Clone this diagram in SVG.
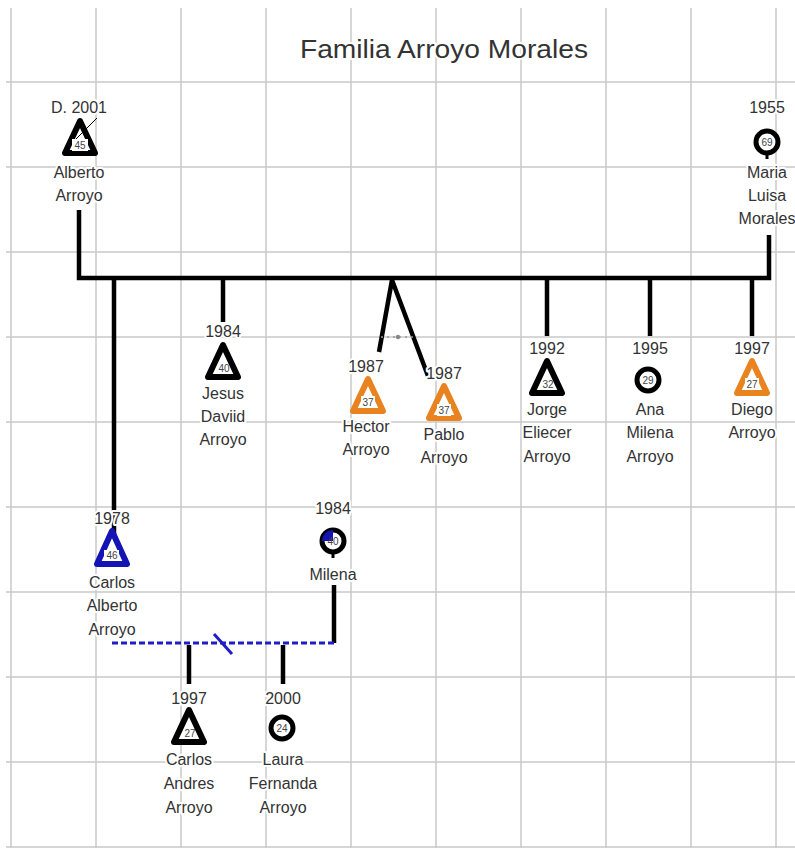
<svg xmlns="http://www.w3.org/2000/svg" width="795" height="848" viewBox="0 0 795 848">
<defs>
<style>
.grid line{stroke:#c8c8c8;stroke-width:1.5}
text{font-family:"Liberation Sans",Arial,sans-serif;font-size:16px;fill:#333;text-anchor:middle}
.lbl{paint-order:stroke;stroke:#fff;stroke-width:4px;stroke-linejoin:round}
.age{font-size:10px;fill:#444}
.tri{fill:#fff;stroke:#000;stroke-width:6;stroke-linejoin:round}
.tri.o{stroke:#e8831f}
.tri.b{stroke:#1414b4}
.circ{fill:#fff;stroke:#000;stroke-width:5}
.link{stroke:#000;stroke-width:4.5;fill:none}
.sep{stroke:#1e1ec8;stroke-width:3;fill:none;stroke-dasharray:6 3}
</style>
</defs>
<rect width="795" height="848" fill="#fff"/>
<g class="grid">
<line x1="11" y1="8" x2="11" y2="848"/><line x1="96" y1="8" x2="96" y2="848"/><line x1="181" y1="8" x2="181" y2="848"/><line x1="266" y1="8" x2="266" y2="848"/><line x1="351" y1="8" x2="351" y2="848"/><line x1="436" y1="8" x2="436" y2="848"/><line x1="521" y1="8" x2="521" y2="848"/><line x1="606" y1="8" x2="606" y2="848"/><line x1="691" y1="8" x2="691" y2="848"/><line x1="776" y1="8" x2="776" y2="848"/>
<line x1="6" y1="82" x2="795" y2="82"/><line x1="6" y1="167" x2="795" y2="167"/><line x1="6" y1="252" x2="795" y2="252"/><line x1="6" y1="337" x2="795" y2="337"/><line x1="6" y1="422" x2="795" y2="422"/><line x1="6" y1="507" x2="795" y2="507"/><line x1="6" y1="592" x2="795" y2="592"/><line x1="6" y1="677" x2="795" y2="677"/><line x1="6" y1="762" x2="795" y2="762"/><line x1="6" y1="847" x2="795" y2="847"/>
</g>
<text x="444" y="58" style="font-size:25px" textLength="288" lengthAdjust="spacingAndGlyphs" class="lbl">Familia Arroyo Morales</text>
<g id="connectors">
<path class="link" d="M79 210V278H769V235"/>
<path class="link" d="M114 278V536"/>
<path class="link" d="M223 278V322"/>
<path class="link" d="M392 280L379 352M392 280L428 376"/>
<line x1="381" y1="337" x2="415" y2="337" stroke="#999" stroke-width="1.5" stroke-dasharray="2 4"/>
<circle cx="398" cy="337" r="2.2" fill="#888"/>
<path class="link" d="M547 278V336"/>
<path class="link" d="M650 278V336"/>
<path class="link" d="M752 278V336"/>
<path class="link" d="M334 585V643"/>
<path class="sep" d="M112 643H334"/>
<line x1="214" y1="634" x2="232" y2="654" stroke="#1e1ec8" stroke-width="3"/>
<path class="link" d="M189 645V684"/>
<path class="link" d="M283 645V684"/>
</g>
<g id="alberto">
<text x="79" y="113" class="lbl">D. 2001</text>
<path class="tri" d="M80 121L95 153H65Z"/>
<line x1="73" y1="142" x2="97" y2="118" stroke="#000" stroke-width="1"/>
<rect x="72" y="139" width="16" height="12" fill="#fff"/>
<text x="80" y="149" class="age">45</text>
<text x="79" y="178" class="lbl">Alberto</text>
<text x="79" y="201" class="lbl">Arroyo</text>
</g>
<g id="maria">
<text x="767" y="113" class="lbl">1955</text>
<circle class="circ" cx="767" cy="142" r="11"/>
<line x1="767" y1="153" x2="767" y2="159" stroke="#000" stroke-width="3"/>
<text x="767" y="146" class="age">69</text>
<text x="767" y="178" class="lbl">Maria</text>
<text x="767" y="201" class="lbl">Luisa</text>
<text x="767" y="224" class="lbl">Morales</text>
</g>
<g id="jesus">
<text x="223" y="337" class="lbl">1984</text>
<path class="tri" d="M223 345L238 377H208Z"/>
<text x="224" y="372" class="age">40</text>
<text x="223" y="399" class="lbl">Jesus</text>
<text x="223" y="422" class="lbl">Daviid</text>
<text x="223" y="445" class="lbl">Arroyo</text>
</g>
<g id="hector">
<text x="366" y="372" class="lbl">1987</text>
<path class="tri o" d="M368 379L383 411H353Z"/>
<rect x="361" y="396" width="14" height="12" fill="#fff"/>
<text x="368" y="406" class="age">37</text>
<text x="366" y="432" class="lbl">Hector</text>
<text x="366" y="455" class="lbl">Arroyo</text>
</g>
<g id="pablo">
<text x="444" y="379" class="lbl">1987</text>
<path class="tri o" d="M444 386L459 418H429Z"/>
<rect x="437" y="404" width="14" height="12" fill="#fff"/>
<text x="444" y="414" class="age">37</text>
<text x="444" y="440" class="lbl">Pablo</text>
<text x="444" y="463" class="lbl">Arroyo</text>
</g>
<g id="jorge">
<text x="547" y="354" class="lbl">1992</text>
<path class="tri" d="M547 361L562 393H532Z"/>
<text x="548" y="388" class="age">32</text>
<text x="547" y="415" class="lbl">Jorge</text>
<text x="547" y="438" class="lbl">Eliecer</text>
<text x="547" y="462" class="lbl">Arroyo</text>
</g>
<g id="ana">
<text x="650" y="354" class="lbl">1995</text>
<circle class="circ" cx="648" cy="380" r="11"/>
<text x="648" y="384" class="age">29</text>
<text x="650" y="415" class="lbl">Ana</text>
<text x="650" y="438" class="lbl">Milena</text>
<text x="650" y="462" class="lbl">Arroyo</text>
</g>
<g id="diego">
<text x="752" y="354" class="lbl">1997</text>
<path class="tri o" d="M752 361L767 393H737Z"/>
<rect x="745" y="378" width="14" height="12" fill="#fff"/>
<text x="752" y="388" class="age">27</text>
<text x="752" y="415" class="lbl">Diego</text>
<text x="752" y="438" class="lbl">Arroyo</text>
</g>
<g id="carlos">
<text x="112" y="524" class="lbl">1978</text>
<path class="tri b" d="M112 531L127 564H97Z"/>
<rect x="104" y="550" width="15" height="11" fill="#fff"/>
<text x="112" y="559" class="age">46</text>
<text x="112" y="588" class="lbl">Carlos</text>
<text x="112" y="611" class="lbl">Alberto</text>
<text x="112" y="635" class="lbl">Arroyo</text>
</g>
<g id="milena">
<text x="333" y="514" class="lbl">1984</text>
<circle class="circ" cx="333" cy="541" r="11"/>
<path d="M333 530A11 11 0 0 0 322 541H333Z" fill="#1414b4"/>
<line x1="333" y1="552" x2="333" y2="558" stroke="#000" stroke-width="3"/>
<text x="333" y="545" class="age">40</text>
<text x="333" y="580" class="lbl">Milena</text>
</g>
<g id="carlos_andres">
<text x="189" y="704" class="lbl">1997</text>
<path class="tri" d="M189 710L204 742H174Z"/>
<text x="190" y="737" class="age">27</text>
<text x="189" y="765" class="lbl">Carlos</text>
<text x="189" y="789" class="lbl">Andres</text>
<text x="189" y="813" class="lbl">Arroyo</text>
</g>
<g id="laura">
<text x="283" y="704" class="lbl">2000</text>
<circle class="circ" cx="282" cy="728" r="11"/>
<text x="282" y="732" class="age">24</text>
<text x="283" y="765" class="lbl">Laura</text>
<text x="283" y="789" class="lbl">Fernanda</text>
<text x="283" y="813" class="lbl">Arroyo</text>
</g>
</svg>
